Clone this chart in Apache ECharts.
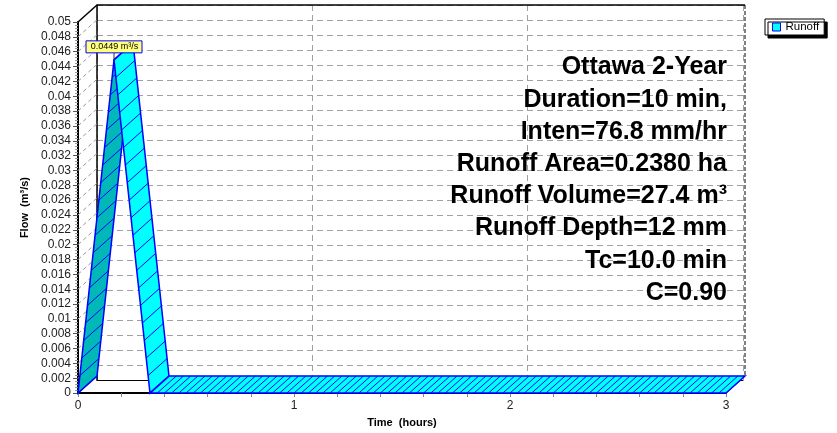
<!DOCTYPE html>
<html><head><meta charset="utf-8">
<script src="https://cdn.jsdelivr.net/npm/echarts@6/dist/echarts.min.js"></script>
<style>html,body{margin:0;padding:0;background:#fff}#c{width:837px;height:433px}</style>
</head><body><div id="c"></div>
<script>
// ---- data ----
const timeHours = [0, 0.1667, 0.3333, 3.0];
const flowCms   = [0, 0.0449, 0, 0];
const seriesName = 'Runoff';
const peakLabel = '0.0449 m³/s';
const infoLines = ['Ottawa 2-Year', 'Duration=10 min,', 'Inten=76.8 mm/hr', 'Runoff Area=0.2380 ha',
                   'Runoff Volume=27.4 m³', 'Runoff Depth=12 mm', 'Tc=10.0 min', 'C=0.90'];
const xAxisName = 'Time  (hours)';
const yAxisName = 'Flow  (m³/s)';
const xMin = 0, xMax = 3, xStep = 1;
const yMin = 0, yMax = 0.05, yStep = 0.002;

// ---- style ----
const DX = 19, DY = -17;
const FONT = "'Liberation Sans', Arial, Helvetica, sans-serif";

const segments = timeHours.slice(1).map((t, i) => [timeHours[i], flowCms[i], t, flowCms[i + 1]]);
let pk = 0; flowCms.forEach((v, i) => { if (v > flowCms[pk]) pk = i; });
const peakData = [[timeHours[pk], flowCms[pk]]];

function ribbon(params, api) {
  const a = api.coord([api.value(0), api.value(1)]);
  const b = api.coord([api.value(2), api.value(3)]);
  const a2 = [a[0] + DX, a[1] + DY], b2 = [b[0] + DX, b[1] + DY];
  const rising = api.value(3) > api.value(1);
  const children = [{ type: 'polygon', shape: { points: [a, b, b2, a2] },
    style: { fill: rising ? '#00B8B8' : '#00FFFF', stroke: 'none' } }];
  const dx = b[0] - a[0], dy = b[1] - a[1];
  const n = Math.max(1, Math.round(Math.max(Math.abs(dx) / 7.2, Math.abs(dy) / 18)));
  for (let k = 1; k < n; k++) {
    const s = k / n, p = [a[0] + dx * s, a[1] + dy * s];
    children.push({ type: 'line', shape: { x1: p[0], y1: p[1], x2: p[0] + DX, y2: p[1] + DY },
      style: { stroke: '#0000FF', lineWidth: 1 } });
  }
  children.push({ type: 'polygon', shape: { points: [a, b, b2, a2] },
    style: { fill: 'none', stroke: '#0000FF', lineWidth: 1.5 } });
  return { type: 'group', children };
}

function frame(params, api) {
  const ch = [];
  const tl = api.coord([xMin, yMax]), bl = api.coord([xMin, yMin]);
  const tr = api.coord([xMax, yMax]), br = api.coord([xMax, yMin]);
  const L = (p, q, st) => ch.push({ type: 'line', shape: { x1: p[0], y1: p[1], x2: q[0], y2: q[1] }, style: st });
  const off = p => [p[0] + DX, p[1] + DY];
  const nT = Math.round((yMax - yMin) / yStep);
  for (let k = 1; k < nT; k++) {
    const p = api.coord([xMin, yMin + k * yStep]);
    L(p, off(p), { stroke: '#999', lineWidth: 1, lineDash: [4, 3] });
  }
  L(tl, off(tl), { stroke: '#000', lineWidth: 1.5 });
  L(bl, off(bl), { stroke: '#000', lineWidth: 1 });
  L(off(tl), off(tr), { stroke: '#000', lineWidth: 1.5 });
  L(off(tr), off(br), { stroke: '#000', lineWidth: 1, lineDash: [4, 2] });
  L(br, off(br), { stroke: '#000', lineWidth: 1 });
  return { type: 'group', children: ch };
}

function peak(params, api) {
  const p = api.coord([api.value(0), api.value(1)]);
  return { type: 'group', children: [
    { type: 'line', shape: { x1: p[0], y1: p[1] - 7, x2: p[0], y2: p[1] }, style: { stroke: '#333', lineWidth: 1 } },
    { type: 'rect', shape: { x: p[0] - 28, y: p[1] - 19, width: 56, height: 12 },
      style: { fill: '#FFFF80', stroke: '#0000FF', lineWidth: 1 } },
    { type: 'text', x: p[0] + 0.5, y: p[1] - 13,
      style: { text: peakLabel, fontSize: 9, fontFamily: FONT, fill: '#000', align: 'center', verticalAlign: 'middle' } }
  ] };
}

const chart = echarts.init(document.getElementById('c'), null, { renderer: 'canvas' });
const dash = { color: '#A0A0A0', width: 1, type: [6, 4] };
chart.setOption({
  animation: false,
  backgroundColor: '#fff',
  textStyle: { fontFamily: FONT },
  grid: [
    { left: 78, top: 22, width: 648, height: 375 },
    { left: 97, top: 5, width: 646, height: 375 }
  ],
  legend: {
    left: 765, top: 19, orient: 'vertical',
    data: [{ name: seriesName, icon: 'rect', itemStyle: { color: '#00FFFF', borderColor: '#0000FF', borderWidth: 1 } }],
    itemWidth: 8, itemHeight: 8, padding: [2, 5, 2, 7],
    textStyle: { fontSize: 11.5, color: '#000', fontFamily: FONT },
    borderColor: '#000', borderWidth: 1, backgroundColor: '#fff',
    shadowColor: '#000', shadowOffsetX: 3, shadowOffsetY: 3, shadowBlur: 0
  },
  xAxis: [
    { type: 'value', gridIndex: 0, min: xMin, max: xMax, interval: 0.2,
      name: xAxisName, nameLocation: 'middle', nameGap: 20,
      nameTextStyle: { fontWeight: 'bold', fontSize: 11, color: '#000' },
      axisLine: { show: true, lineStyle: { color: '#000', width: 2 } },
      axisTick: { show: true, length: 4, lineStyle: { color: '#888' } },
      axisLabel: { fontSize: 12, color: '#222', margin: 7,
        formatter: v => Math.abs(v - Math.round(v)) < 1e-6 ? String(Math.round(v)) : '' },
      splitLine: { show: false } },
    { type: 'value', gridIndex: 1, min: xMin, max: xMax, interval: xStep,
      axisLine: { show: true, lineStyle: { color: '#000', width: 1 } },
      axisTick: { show: false }, axisLabel: { show: false },
      splitLine: { show: true, lineStyle: dash } }
  ],
  yAxis: [
    { type: 'value', gridIndex: 0, min: yMin, max: yMax, interval: yStep,
      name: yAxisName, nameLocation: 'middle', nameGap: 41, nameRotate: 90,
      nameTextStyle: { fontWeight: 'bold', fontSize: 11, color: '#000' },
      axisLine: { show: true, lineStyle: { color: '#000', width: 2 } },
      axisTick: { show: true, length: 5, lineStyle: { color: '#555' } },
      minorTick: { show: true, splitNumber: 5, length: 3, lineStyle: { color: '#999' } },
      axisLabel: { fontSize: 12, color: '#222', margin: 7 },
      splitLine: { show: false } },
    { type: 'value', gridIndex: 1, min: yMin, max: yMax, interval: yStep,
      axisLine: { show: true, lineStyle: { color: '#000', width: 1.5 } },
      axisTick: { show: false }, axisLabel: { show: false },
      splitLine: { show: true, lineStyle: dash } }
  ],
  graphic: infoLines.map((t, i) => ({
    type: 'text', right: 837 - 727, top: 55 + i * 32.2, z: 50,
    style: { text: t, fontSize: 25, fontWeight: 'bold', fontFamily: FONT, fill: '#000' }
  })),
  series: [
    { type: 'custom', name: '_frame', xAxisIndex: 0, yAxisIndex: 0, z: 1, silent: true, clip: false,
      renderItem: frame, data: [[xMin, yMin]] },
    { type: 'custom', name: seriesName, xAxisIndex: 0, yAxisIndex: 0, z: 3, clip: false,
      itemStyle: { color: '#00FFFF' }, renderItem: ribbon, data: segments },
    { type: 'custom', name: '_peak', xAxisIndex: 0, yAxisIndex: 0, z: 60, clip: false,
      renderItem: peak, data: peakData }
  ]
});
</script></body></html>
